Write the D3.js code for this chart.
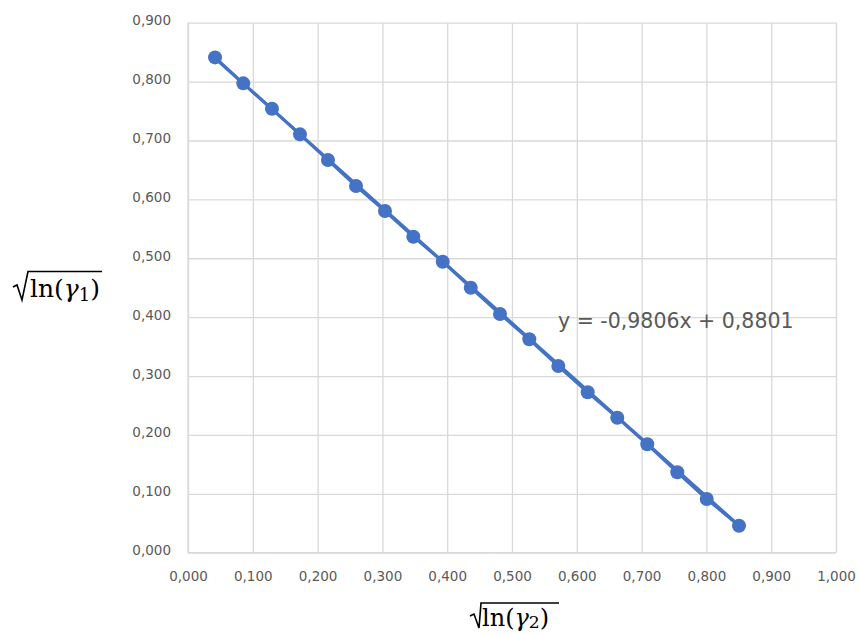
<!DOCTYPE html>
<html>
<head>
<meta charset="utf-8">
<script src="https://cdn.jsdelivr.net/npm/d3@7"></script>
<style>
  html, body { margin: 0; padding: 0; background: #fff; }
  svg { display: block; }
</style>
</head>
<body>
<svg id="chart" width="857" height="634"></svg>
<script>
// ---- data ----
const xValues = [0.0417, 0.0853, 0.1296, 0.1728, 0.2160, 0.2593, 0.3040, 0.3477, 0.3931, 0.4363,
                 0.4815, 0.5267, 0.5715, 0.6168, 0.6625, 0.7088, 0.7551, 0.8005, 0.8503];
const yValues = [0.8411, 0.7970, 0.7538, 0.7104, 0.6668, 0.6226, 0.5802, 0.5366, 0.4941, 0.4500,
                 0.4053, 0.3624, 0.3170, 0.2724, 0.2292, 0.1841, 0.1365, 0.0912, 0.0458];
const xTicks = [0, 0.1, 0.2, 0.3, 0.4, 0.5, 0.6, 0.7, 0.8, 0.9, 1.0];
const yTicks = [0, 0.1, 0.2, 0.3, 0.4, 0.5, 0.6, 0.7, 0.8, 0.9];
const trendSlope = -0.9806;
const trendIntercept = 0.8801;
const equationText = "y = -0,9806x + 0,8801";

// ---- layout ----
const svg = d3.select("#chart");
const pLeft = 188, pRight = 836, pTop = 22.7, pBottom = 552.7;
const x = d3.scaleLinear().domain([0, 1]).range([pLeft, pRight]);
const y = d3.scaleLinear().domain([0, 0.9]).range([pBottom, pTop]);
const loc = d3.formatLocale({decimal: ",", thousands: ".", grouping: [3], currency: ["", ""]});
const fmt = loc.format(".3f");
const gridColor = "#d9d9d9";
const textColor = "#595959";
const blue = "#4472c4";
const tickFont = "'DejaVu Sans', sans-serif";

// vertical gridlines + x labels
const gx = svg.append("g").attr("transform", `translate(0,${pBottom})`)
  .call(d3.axisBottom(x).tickValues(xTicks).tickSize(-(pBottom - pTop)).tickPadding(19).tickFormat(fmt));
gx.select(".domain").remove();
gx.selectAll(".tick line").attr("stroke", gridColor).attr("stroke-width", 1.3);
gx.selectAll(".tick text").attr("fill", textColor).style("font-family", tickFont).style("font-size", "13.5px");

// horizontal gridlines + y labels
const gy = svg.append("g").attr("transform", `translate(${pLeft},0)`)
  .call(d3.axisLeft(y).tickValues(yTicks).tickSize(-(pRight - pLeft)).tickPadding(17).tickFormat(fmt));
gy.select(".domain").remove();
gy.selectAll(".tick line").attr("stroke", gridColor).attr("stroke-width", 1.3);
gy.selectAll(".tick text").attr("fill", textColor).attr("dy", "0.15em")
  .style("font-family", tickFont).style("font-size", "13.5px");

// axis lines
svg.append("line").attr("x1", pLeft).attr("x2", pLeft).attr("y1", pTop).attr("y2", pBottom)
  .attr("stroke", gridColor).attr("stroke-width", 1.3);
svg.append("line").attr("x1", pLeft).attr("x2", pRight).attr("y1", pBottom).attr("y2", pBottom)
  .attr("stroke", gridColor).attr("stroke-width", 1.3);

// trendline
const xMin = d3.min(xValues), xMax = d3.max(xValues);
svg.append("line")
  .attr("x1", x(xMin)).attr("y1", y(trendSlope * xMin + trendIntercept))
  .attr("x2", x(xMax)).attr("y2", y(trendSlope * xMax + trendIntercept))
  .attr("stroke", blue).attr("stroke-width", 3);

// data line
const pts = xValues.map((v, i) => [v, yValues[i]]);
svg.append("path").datum(pts)
  .attr("d", d3.line().x(d => x(d[0])).y(d => y(d[1])))
  .attr("fill", "none").attr("stroke", blue).attr("stroke-width", 3);

// markers
svg.append("g").selectAll("circle").data(pts).join("circle")
  .attr("cx", d => x(d[0])).attr("cy", d => y(d[1])).attr("r", 7)
  .attr("fill", blue);

// equation
svg.append("text").attr("x", 558).attr("y", 327.5)
  .attr("fill", textColor).style("font-family", tickFont).style("font-size", "20.5px")
  .text(equationText);

// math axis titles
function mathLabel(g, sub, size, subDy) {
  const t = g.append("text").attr("x", 0).attr("y", 0)
    .style("font-family", "'DejaVu Serif', serif").style("font-size", size + "px").attr("fill", "#000");
  t.append("tspan").text("ln(");
  t.append("tspan").style("font-style", "italic").text("γ");
  t.append("tspan").attr("dy", subDy).style("font-size", (size * 0.72) + "px").text(sub);
  t.append("tspan").attr("dy", -subDy).text(")");
  return t;
}
// y title
const yt = svg.append("g").attr("transform", "translate(30,297)");
mathLabel(yt, "1", 25, 4);
yt.append("path").attr("d", "M-17,-10 L-13,-12 L-8,3 L-2,-25.5 L72,-25.5")
  .attr("fill", "none").attr("stroke", "#000").attr("stroke-width", 1.6);

// x title
const xt = svg.append("g").attr("transform", "translate(482,626)");
mathLabel(xt, "2", 24, 2);
xt.append("path").attr("d", "M-12,-10 L-8,-12 L-3,2 L-1,-23 L77,-23")
  .attr("fill", "none").attr("stroke", "#000").attr("stroke-width", 1.6);
</script>
</body>
</html>
